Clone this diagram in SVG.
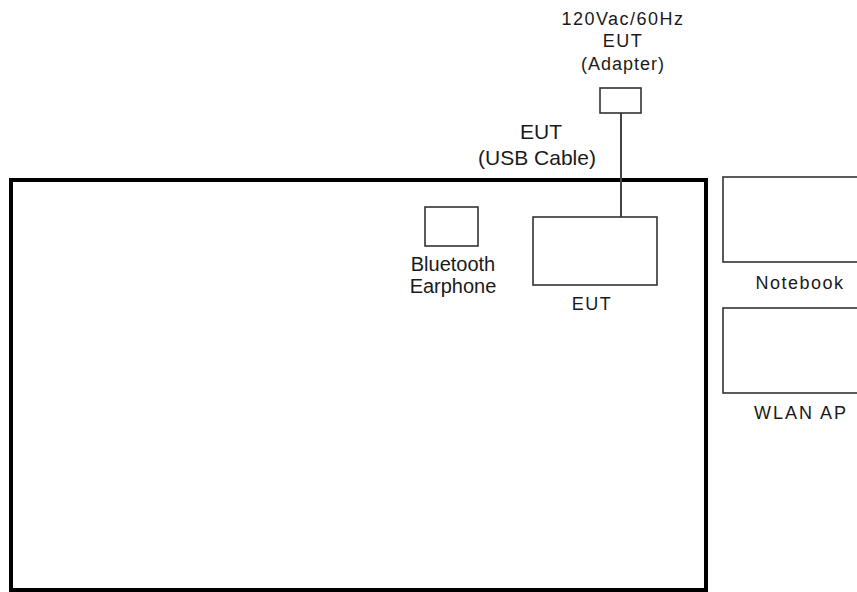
<svg xmlns="http://www.w3.org/2000/svg" width="857" height="592" viewBox="0 0 857 592">
<style>
  .box { fill: #ffffff; stroke: #333333; stroke-width: 1.6; }
  .frame { fill: none; stroke: #000000; stroke-width: 4; }
  .wire { fill: none; stroke: #444444; stroke-width: 2; }
  text { font-family: "Liberation Sans", Arial, sans-serif; fill: #1a1a1a; text-anchor: middle; }
  .t21 { font-size: 21px; }
  .t20 { font-size: 20px; }
  .t18 { font-size: 18px; }
  .sp { letter-spacing: 1.5px; }
  .sp1 { letter-spacing: 1px; }
</style>
<rect width="857" height="592" fill="#ffffff"/>
<g id="chamber">
  <rect class="frame" x="11" y="180" width="695" height="410"/>
</g>
<g id="connectors">
  <line class="wire" x1="621" y1="113" x2="621" y2="217"/>
</g>
<g id="adapter">
  <rect class="box" x="600" y="88" width="41" height="25"/>
  <text class="t18 sp" x="623" y="25">120Vac/60Hz</text>
  <text class="t18 sp" x="623" y="47">EUT</text>
  <text class="t18 sp1" x="623" y="70">(Adapter)</text>
</g>
<g id="usb-cable-label">
  <text class="t21" x="541" y="139">EUT</text>
  <text class="t21" x="537" y="165">(USB Cable)</text>
</g>
<g id="bluetooth">
  <rect class="box" x="425" y="207" width="53" height="39"/>
  <text class="t20" x="453" y="271">Bluetooth</text>
  <text class="t20" x="453" y="293">Earphone</text>
</g>
<g id="eut">
  <rect class="box" x="533" y="217" width="124" height="68"/>
  <text class="t18 sp" x="592" y="310">EUT</text>
</g>
<g id="notebook">
  <rect class="box" x="723" y="177" width="140" height="85"/>
  <text class="t18 sp" x="800" y="289">Notebook</text>
</g>
<g id="wlan-ap">
  <rect class="box" x="723" y="308" width="140" height="85"/>
  <text class="t18 sp" x="801" y="419" style="letter-spacing:2px">WLAN AP</text>
</g>
</svg>
